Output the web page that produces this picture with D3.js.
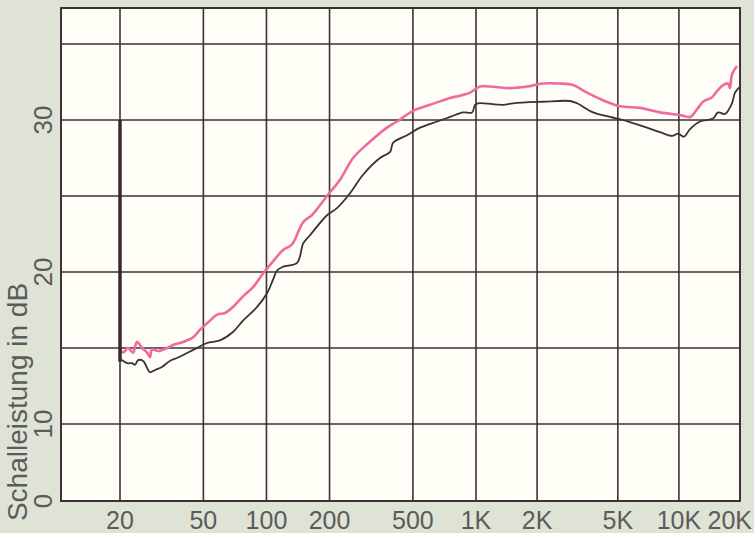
<!DOCTYPE html>
<html>
<head>
<meta charset="utf-8">
<script src="https://cdn.jsdelivr.net/npm/d3@7"></script>
<style>
  body { margin: 0; background: #dfe3d5; }
  svg { display: block; }
  text { font-family: "Liberation Sans", Arial, sans-serif; fill: #5b5b5b; }
</style>
</head>
<body>
<div id="chart"></div>
<script>
// frequency grid (Hz) and their labels
var freqTicks = [20, 50, 100, 200, 500, 1000, 2000, 5000, 10000, 20000];
var freqLabels = ["20", "50", "100", "200", "500", "1K", "2K", "5K", "10K", "20K"];
// dB grid and labelled values
var dbGrid = [10, 15, 20, 25, 30, 35];
var dbLabels = [0, 10, 20, 30];

// pink trace [Hz, dB]
var pinkTrace = [
  [20, 14.9], [20.7, 14.7], [21.8, 15.0], [23.1, 14.7], [24.1, 15.4], [25.5, 15.0],
  [26.9, 14.7], [27.8, 14.4], [28.4, 14.9], [30.4, 14.8], [33.5, 15.0], [35.8, 15.2],
  [40, 15.4], [44.6, 15.7], [48.2, 16.2], [53.8, 16.8], [58.1, 17.2], [63.4, 17.3],
  [69.2, 17.7], [77.3, 18.4], [86.3, 19.0], [96.3, 19.9], [107.5, 20.7], [120, 21.45],
  [132, 21.8], [150, 23.3], [165, 23.75], [197, 25.1], [224, 26.05], [259, 27.5],
  [302, 28.4], [376, 29.5], [420, 29.9], [501, 30.6], [603, 31.0], [752, 31.45],
  [839, 31.6], [937, 31.8], [1046, 32.2], [1172, 32.2], [1471, 32.1], [1784, 32.2],
  [2139, 32.4], [2594, 32.4], [3007, 32.3], [3525, 31.8], [4226, 31.3], [5124, 30.9],
  [6429, 30.8], [8069, 30.5], [10358, 30.3], [11343, 30.2], [12283, 30.7], [13146, 31.2],
  [14559, 31.5], [15409, 31.9], [16490, 32.3], [17453, 32.4], [17851, 32.1], [18262, 33.0],
  [19327, 33.55]
];

// dark trace [Hz, dB]
var darkTrace = [
  [20, 14.2], [20.4, 14.2], [21.6, 14.0], [22.8, 14.0], [23.6, 13.9], [24.4, 14.2],
  [25.8, 14.15], [26.9, 13.7], [27.8, 13.4], [29.4, 13.55], [31.7, 13.75], [34.6, 14.15],
  [37.4, 14.34], [41.8, 14.67], [46.6, 15.0], [52, 15.33], [60, 15.5], [69.2, 16.05],
  [77.3, 16.8], [90.2, 17.7], [100.6, 18.6], [107.5, 19.5], [112.3, 20.1], [120, 20.35],
  [140, 20.6], [150, 21.9], [161, 22.4], [195, 23.75], [217, 24.2], [251, 25.2],
  [289, 26.4], [348, 27.5], [389, 27.9], [402, 28.5], [469, 29.0], [541, 29.5],
  [652, 29.9], [752, 30.2], [868, 30.5], [958, 30.5], [990, 31.0], [1023, 31.1],
  [1359, 31.0], [1521, 31.1], [2139, 31.2], [2906, 31.25], [3146, 31.1], [3773, 30.5],
  [4575, 30.2], [5302, 30.0], [5938, 29.8], [6964, 29.5], [8069, 29.2], [9246, 28.95],
  [9898, 29.1], [10596, 28.9], [11343, 29.4], [12706, 29.9], [14725, 30.1], [15585, 30.5],
  [16868, 30.4], [18262, 31.1], [18893, 31.8], [20000, 32.2]
];

// pen drop at the start of the sweep [Hz, from dB, to dB]
var penDrop = [20, 30, 14.1];

function init() {
  var W = 754, H = 533;
  var box = { left: 61, top: 8, right: 740, bottom: 501 };

  var svg = d3.select("#chart").append("svg")
      .attr("width", W)
      .attr("height", H);

  svg.append("rect")
      .attr("width", W).attr("height", H)
      .attr("fill", "#dfe3d5");

  // the paper is a log grid, slightly uneven, so use a piecewise log scale
  var x = d3.scaleLog()
      .domain([20, 1000, 20000])
      .range([120, 476, box.right]);

  // 0 dB sits at the bottom edge, the rest is 5 dB per row
  var y = d3.scaleLinear()
      .domain([0, 10, 35])
      .range([box.bottom, 424, 44]);

  svg.append("rect")
      .attr("x", box.left)
      .attr("y", box.top)
      .attr("width", box.right - box.left)
      .attr("height", box.bottom - box.top)
      .attr("fill", "#fefef7");

  // grid
  svg.append("g").selectAll("line")
      .data(freqTicks.filter(function(d) { return d < 20000; }))
      .enter().append("line")
      .attr("x1", function(d) { return x(d); })
      .attr("x2", function(d) { return x(d); })
      .attr("y1", box.top)
      .attr("y2", box.bottom)
      .attr("stroke", "#3e3036")
      .attr("stroke-width", 1.6);

  svg.append("g").selectAll("line")
      .data(dbGrid)
      .enter().append("line")
      .attr("x1", box.left)
      .attr("x2", box.right)
      .attr("y1", function(d) { return y(d); })
      .attr("y2", function(d) { return y(d); })
      .attr("stroke", "#3e3036")
      .attr("stroke-width", 1.6);

  svg.append("rect")
      .attr("x", box.left)
      .attr("y", box.top)
      .attr("width", box.right - box.left)
      .attr("height", box.bottom - box.top)
      .attr("fill", "none")
      .attr("stroke", "#3e3036")
      .attr("stroke-width", 2);

  var line = d3.line()
      .x(function(d) { return x(d[0]); })
      .y(function(d) { return y(d[1]); })
      .curve(d3.curveCatmullRom.alpha(0.5));

  svg.append("path")
      .datum(darkTrace)
      .attr("d", line)
      .attr("fill", "none")
      .attr("stroke", "#3a3236")
      .attr("stroke-width", 1.8)
      .attr("stroke-linejoin", "round");

  svg.append("path")
      .datum(pinkTrace)
      .attr("d", line)
      .attr("fill", "none")
      .attr("stroke", "#ef6a9f")
      .attr("stroke-width", 2.6)
      .attr("stroke-linejoin", "round");

  // thick vertical pen line at 20 Hz
  svg.append("line")
      .attr("x1", x(penDrop[0]))
      .attr("x2", x(penDrop[0]))
      .attr("y1", y(penDrop[1]))
      .attr("y2", y(penDrop[2]))
      .attr("stroke", "#3a2a2c")
      .attr("stroke-width", 3.5);

  // x labels; the last one is pushed inside the page edge
  svg.append("g").selectAll("text")
      .data(freqTicks)
      .enter().append("text")
      .attr("x", function(d, i) {
        return i === freqTicks.length - 1 ? W - 2 : x(d);
      })
      .attr("y", 529)
      .attr("text-anchor", function(d, i) {
        return i === freqTicks.length - 1 ? "end" : "middle";
      })
      .style("font-size", "25px")
      .text(function(d, i) { return freqLabels[i]; });

  // y labels (rotated)
  svg.append("g").selectAll("text")
      .data(dbLabels)
      .enter().append("text")
      .attr("transform", function(d) {
        return "translate(52," + y(d) + ") rotate(-90)";
      })
      .attr("text-anchor", "middle")
      .style("font-size", "26px")
      .text(function(d) { return d; });

  svg.append("text")
      .attr("transform", "translate(27,402) rotate(-90)")
      .attr("text-anchor", "middle")
      .style("font-size", "28px")
      .text("Schalleistung in dB");
}

window.onload = init;
</script>
</body>
</html>
